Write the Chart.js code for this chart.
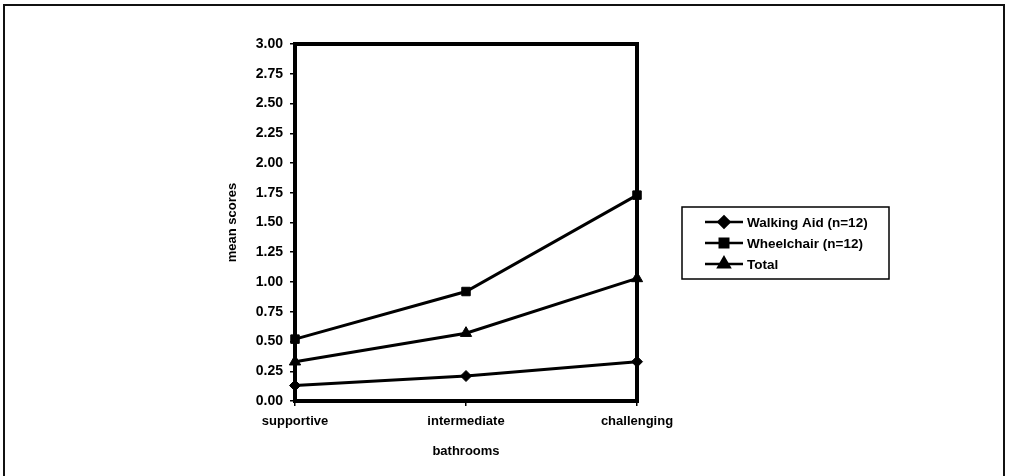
<!DOCTYPE html>
<html>
<head>
<meta charset="utf-8">
<script src="https://cdn.jsdelivr.net/npm/chart.js@4/dist/chart.umd.min.js"></script>
<style>
  html, body { margin: 0; padding: 0; background: #fff; }
  #wrap { width: 1010px; height: 476px; position: relative; }
</style>
</head>
<body>
<div id="wrap"><canvas id="chart"></canvas></div>
<script>
const categories = ["supportive", "intermediate", "challenging"]
const walkingAid = [0.13, 0.21, 0.33]
const wheelchair = [0.52, 0.92, 1.73]
const total = [0.33, 0.57, 1.03]
const seriesNames = ["Walking Aid (n=12)", "Wheelchair (n=12)", "Total"]
const yTicks = [0, 0.25, 0.5, 0.75, 1, 1.25, 1.5, 1.75, 2, 2.25, 2.5, 2.75, 3]

const fontFamily = "'Liberation Sans', Arial, sans-serif"

function makeSet(label, data, style, radius) {
    return {
        label: label,
        data: data,
        borderColor: "#000",
        backgroundColor: "#000",
        borderWidth: 3,
        pointStyle: style,
        pointRadius: radius,
        pointHoverRadius: radius,
        pointBackgroundColor: "#000",
        pointBorderColor: "#000",
        pointBorderWidth: 1,
        tension: 0,
        clip: false
    }
}

// frame round the plot and the page, plus the boxed legend
const framePlugin = {
    id: "frame",
    beforeDraw(chart) {
        const ctx = chart.ctx
        ctx.save()
        ctx.strokeStyle = "#111"
        ctx.lineWidth = 2
        ctx.beginPath()
        ctx.moveTo(4, 480)
        ctx.lineTo(4, 5)
        ctx.lineTo(1004, 5)
        ctx.lineTo(1004, 480)
        ctx.stroke()
        ctx.restore()
    },
    afterDatasetsDraw(chart) {
        const ctx = chart.ctx
        const a = chart.chartArea
        ctx.save()
        ctx.strokeStyle = "#000"
        ctx.lineWidth = 4
        ctx.strokeRect(a.left, a.top, a.right - a.left, a.bottom - a.top)
        ctx.restore()
    },
    afterDraw(chart) {
        const ctx = chart.ctx
        const box = { x: 682, y: 207, w: 207, h: 72 }
        ctx.save()
        ctx.strokeStyle = "#000"
        ctx.lineWidth = 1.5
        ctx.strokeRect(box.x, box.y, box.w, box.h)
        ctx.font = "bold 13.5px " + fontFamily
        ctx.textBaseline = "middle"
        ctx.fillStyle = "#000"
        chart.data.datasets.forEach((ds, i) => {
            const y = 222 + i * 21
            ctx.lineWidth = 2.5
            ctx.beginPath()
            ctx.moveTo(705, y)
            ctx.lineTo(743, y)
            ctx.stroke()
            Chart.helpers.drawPoint(ctx, {
                pointStyle: ds.pointStyle,
                radius: ds.pointRadius,
                borderWidth: 1
            }, 724, y)
            ctx.fill()
            ctx.fillText(ds.label, 747, y + 1)
        })
        ctx.restore()
    }
}

new Chart(document.getElementById("chart"), {
    type: "line",
    data: {
        labels: categories,
        datasets: [
            makeSet(seriesNames[0], walkingAid, "rectRot", 5.5),
            makeSet(seriesNames[1], wheelchair, "rect", 6),
            makeSet(seriesNames[2], total, "triangle", 6.5)
        ]
    },
    options: {
        responsive: true,
        maintainAspectRatio: false,
        animation: false,
        layout: { padding: { left: 222, right: 373, top: 44, bottom: 10 } },
        plugins: {
            legend: { display: false },
            tooltip: { enabled: false }
        },
        scales: {
            x: {
                offset: false,
                afterFit(scale) { scale.height = 65 },
                grid: { drawOnChartArea: false, drawTicks: true, tickLength: 5, color: "#000", lineWidth: 1.5 },
                border: { color: "#000", width: 3 },
                ticks: { color: "#000", padding: 8, font: { family: fontFamily, size: 13, weight: "bold" } },
                title: {
                    display: true,
                    text: "bathrooms",
                    color: "#000",
                    padding: { top: 4, bottom: 7 },
                    font: { family: fontFamily, size: 13, weight: "bold" }
                }
            },
            y: {
                min: 0,
                max: 3,
                afterFit(scale) { scale.width = 73 },
                afterBuildTicks(scale) { scale.ticks = yTicks.map(v => ({ value: v })) },
                grid: { drawOnChartArea: false, drawTicks: true, tickLength: 5, color: "#000", lineWidth: 1.5 },
                border: { color: "#000", width: 3 },
                ticks: {
                    color: "#000",
                    padding: 7,
                    font: { family: fontFamily, size: 14, weight: "bold" },
                    callback: v => Number(v).toFixed(2)
                },
                title: {
                    display: true,
                    text: "mean scores",
                    color: "#000",
                    padding: { top: 3, bottom: 4 },
                    font: { family: fontFamily, size: 13, weight: "bold" }
                }
            }
        }
    },
    plugins: [framePlugin]
})
</script>
</body>
</html>
